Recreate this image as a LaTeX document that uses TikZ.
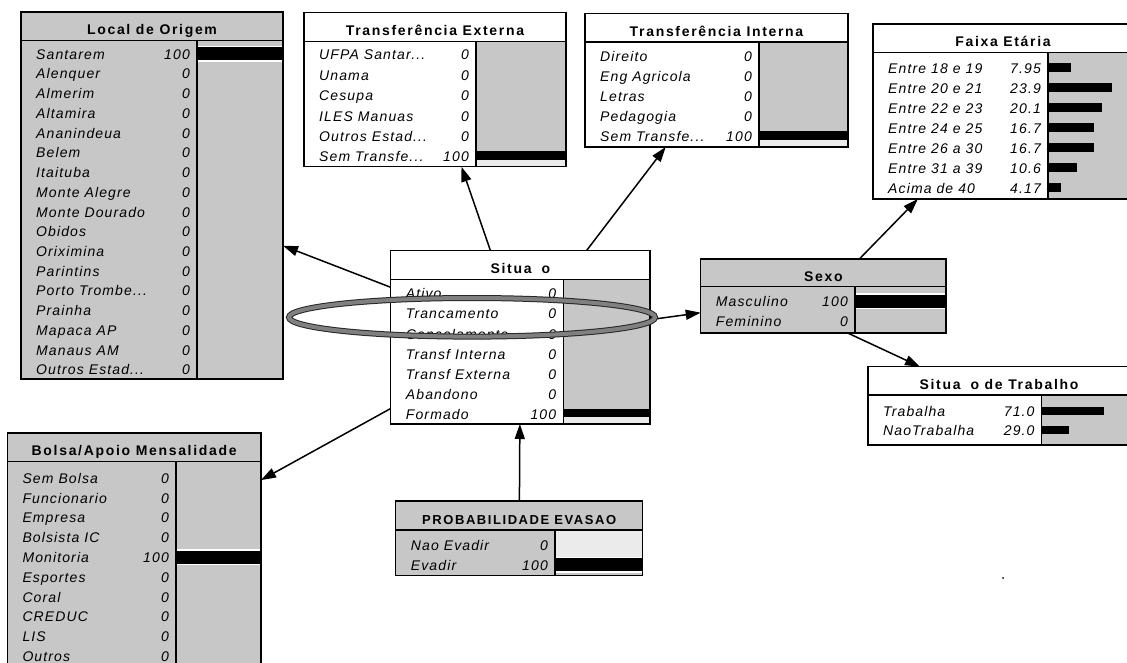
\documentclass[tikz,border=0pt]{standalone}
\usepackage{fontspec}
\setmainfont{Liberation Sans}
\newfontfamily\statefont[LetterSpace=8]{Liberation Sans}
\newfontfamily\headfont[LetterSpace=12]{Liberation Sans}
\usetikzlibrary{arrows.meta,calc}
\definecolor{stipple}{gray}{0.78}
\definecolor{paleband}{gray}{0.92}
% trailing dots of a truncated state name
\newcommand\trunc{...}

\tikzset{
  frame/.style={draw=black, line width=1.3pt, rectangle, inner sep=0pt, outer sep=0pt, anchor=north west},
  rule/.style={line width=1.3pt},
  head/.style={font=\headfont\bfseries\fontsize{14}{16}\selectfont, inner sep=0pt, anchor=base},
  state/.style={font=\statefont\itshape\fontsize{14}{16}\selectfont, inner sep=0pt, anchor=base west},
  prob/.style={font=\statefont\itshape\fontsize{14}{16}\selectfont, inner sep=0pt, anchor=base east},
  link/.style={line width=1.5pt, -{Triangle[length=15pt,width=10pt]}},
  ring/.style={draw=black!85, line width=1pt, double=black!50, double distance=4pt},
}

% frame of a network node: name, left, top, right, bottom, title rule, bar column, title
\newcommand\netframe[8]{%
  \node[frame, minimum width={#4-#2}, minimum height={#5-#3}] (#1) at (#2,#3) {};
  \draw[rule] (#2,#6) -- (#4,#6);
  \draw[rule] (#7,#6) -- (#7,#5);
  \node[head] (#1-title) at ({(#2+#4)/2},{(#3+#6)/2+8.5}) {#8};
}
% state rows: name, left, bar column, first baseline, step, label/value list
\newcommand\netstates[6]{%
  \foreach \lab/\val [count=\i] in {#6} {
    \node[state] (#1-s\i) at ({#2+15},{#4+(\i-1)*#5}) {\lab};
    \node[prob] (#1-p\i) at ({#3-7},{#4+(\i-1)*#5}) {\val};
  }}
% full belief bar in a shaded node: column, right, baseline
\newcommand\fullbar[3]{%
  \fill[white] (#1,{#3-13.5}) rectangle (#2,{#3+2.5});
  \fill[black] (#1,{#3-12}) rectangle (#2,{#3+1});}
% full belief bar in a plain node: column, right, baseline, bottom
\newcommand\plainbar[4]{%
  \fill[paleband] (#1,{#3-2}) rectangle (#2,#4);
  \fill[black] (#1,{#3-10.5}) rectangle (#2,{#3-2});}
% partial belief bar: column, length, baseline
\newcommand\partbar[3]{%
  \fill[black] (#1,{#3-10}) rectangle ({#1+#2},{#3-1.5});}

\begin{document}
\begin{tikzpicture}[x=1pt,y=-1pt]
\useasboundingbox (0,0) rectangle (1127,663);
\fill[white] (0,0) rectangle (1127,663);

% Local de Origem
\fill[stipple] (21,12) rectangle (283,379);
\fullbar{197}{283}{59.2}
\netframe{origem}{21}{12}{283}{379}{40.7}{197}{Local de Origem}
\netstates{origem}{21}{197}{59.2}{19.73}{Santarem/100, Alenquer/0, Almerim/0, Altamira/0, Ananindeua/0, Belem/0, Itaituba/0, Monte Alegre/0, Monte Dourado/0, Obidos/0, Oriximina/0, Parintins/0, Porto Trombe\trunc/0, Prainha/0, Mapaca AP/0, Manaus AM/0, Outros Estad\trunc/0}

% Transferencia Externa
\fill[white] (304,12.7) rectangle (566,166.7);
\fill[stipple] (476,41.7) rectangle (566,166.7);
\plainbar{476}{566}{161.7}{166.7}
\netframe{tex}{304}{12.7}{566}{166.7}{41.7}{476}{Transferência Externa}
\netstates{tex}{304}{476}{60}{20.34}{UFPA Santar\trunc/0, Unama/0, Cesupa/0, ILES Manuas/0, Outros Estad\trunc/0, Sem Transfe\trunc/100}

% Transferencia Interna
\fill[white] (585,13.3) rectangle (848,147);
\fill[stipple] (759,42) rectangle (848,147);
\plainbar{759}{848}{141.7}{147}
\netframe{tin}{585}{13.3}{848}{147}{42}{759}{Transferência Interna}
\netstates{tin}{585}{759}{61.7}{20}{Direito/0, Eng Agricola/0, Letras/0, Pedagogia/0, Sem Transfe\trunc/100}

% Faixa Etaria
\fill[white] (873,24) rectangle (1133,199);
\fill[stipple] (1048,52.7) rectangle (1133,199);
\partbar{1048}{23}{73.3}
\partbar{1048}{64}{93.3}
\partbar{1048}{54}{113.3}
\partbar{1048}{46}{133.3}
\partbar{1048}{46}{153.3}
\partbar{1048}{29}{173.3}
\partbar{1048}{13}{193.3}
\netframe{faixa}{873}{24}{1133}{199}{52.7}{1048}{Faixa Etária}
\netstates{faixa}{873}{1048}{73.3}{20}{Entre 18 e 19/7.95, Entre 20 e 21/23.9, Entre 22 e 23/20.1, Entre 24 e 25/16.7, Entre 26 a 30/16.7, Entre 31 a 39/10.6, Acima de 40/4.17}

% Situacao
\fill[white] (390.7,250.7) rectangle (650,424);
\fill[stipple] (563.3,279.3) rectangle (650,424);
\plainbar{563.3}{650}{419.3}{424}
\netframe{sit}{390.7}{250.7}{650}{424}{279.3}{563.3}{Situa\hspace{10pt}o}
\netstates{sit}{390.7}{563.3}{298.8}{20.1}{Ativo/0, Trancamento/0, Cancelamento/0, Transf Interna/0, Transf Externa/0, Abandono/0, Formado/100}

% Sexo
\fill[stipple] (700.7,259) rectangle (946,333);
\fullbar{855}{946}{306.7}
\netframe{sexo}{700.7}{259}{946}{333}{286.7}{855}{Sexo}
\netstates{sexo}{700.7}{855}{306.7}{19.3}{Masculino/100, Feminino/0}

% Situacao de Trabalho
\fill[white] (868,366.7) rectangle (1130,445);
\fill[stipple] (1041.7,395) rectangle (1130,445);
\partbar{1041.7}{62}{416.7}
\partbar{1041.7}{27}{435.7}
\netframe{trab}{868}{366.7}{1130}{445}{395}{1041.7}{Situa\hspace{10pt}o de Trabalho}
\netstates{trab}{868}{1041.7}{416.7}{19}{Trabalha/71.0, NaoTrabalha/29.0}

% Bolsa/Apoio Mensalidade
\fill[stipple] (7.3,433) rectangle (261,666);
\fullbar{176}{261}{562.5}
\netframe{bolsa}{7.3}{433}{261}{666}{461.7}{176}{Bolsa/Apoio Mensalidade}
\netstates{bolsa}{7.3}{176}{483.3}{19.8}{Sem Bolsa/0, Funcionario/0, Empresa/0, Bolsista IC/0, Monitoria/100, Esportes/0, Coral/0, CREDUC/0, LIS/0, Outros/0}

% Probabilidade de evasao
\fill[stipple] (395.7,501) rectangle (642.7,575.7);
\fill[paleband] (555,531) rectangle (642.7,557);
\fullbar{555}{642.7}{570}
\netframe{evasao}{395.7}{501}{642.7}{575.7}{530}{555}{\fontsize{13}{15}\selectfont PROBABILIDADE EVASAO}
\netstates{evasao}{395.7}{555}{550}{20}{Nao Evadir/0, Evadir/100}

% links
\draw[link] (sit) -- (origem);
\draw[link] (sit) -- (tex);
\draw[link] (sit) -- (tin);
\draw[link] (sit) -- (sexo);
\draw[link] (sit) -- (bolsa);
\draw[link] (sexo) -- (faixa);
\draw[link] ($(sexo.south west)+(147,0)$) -- ($(trab.north west)+(52,0)$);
\draw[link] (evasao) -- (sit);

% highlight ring around Trancamento
\draw[ring] (472,317.3) ellipse [x radius=183pt, y radius=19.3pt];

\fill (1003,578) circle [radius=1pt];
\end{tikzpicture}
\end{document}
